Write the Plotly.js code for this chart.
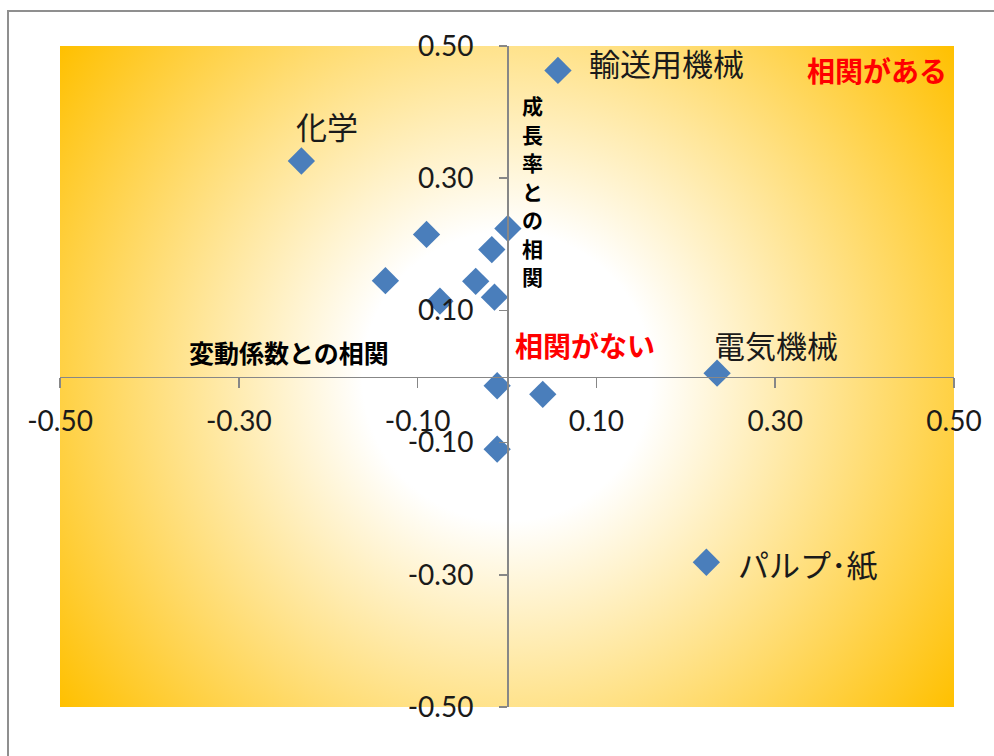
<!DOCTYPE html>
<html>
<head>
<meta charset="utf-8">
<script src="https://cdn.plot.ly/plotly-3.0.1.min.js"></script>
<style>
  html, body { margin: 0; padding: 0; background: #fff; }
  #wrap { position: relative; width: 994px; height: 756px; overflow: hidden; }
  #chart { width: 994px; height: 756px; }
  #frame {
    position: absolute; left: 7px; top: 10px; width: 1100px; height: 900px;
    border-top: 2px solid #8f8f8f; border-left: 2px solid #8f8f8f;
    pointer-events: none;
  }
</style>
</head>
<body>
<div id="wrap">
  <div id="chart"></div>
  <div id="frame"></div>
</div>
<script>
// 業種別：変動係数との相関（横軸）と成長率との相関（縦軸）
const cvCorr = [0.057, -0.230, -0.090, 0.001, -0.017, -0.136, -0.035, -0.075, -0.014, 0.235, -0.011, 0.040, -0.011, 0.223];
const growthCorr = [0.463, 0.326, 0.215, 0.224, 0.192, 0.145, 0.144, 0.114, 0.120, 0.005, -0.014, -0.027, -0.110, -0.281];
const industryNames = ['輸送用機械', '化学', '', '', '', '', '', '', '', '電気機械', '', '', '', 'パルプ･紙'];

const xTickVals = [-0.5, -0.3, -0.1, 0.1, 0.3, 0.5];
const xTickText = ['-0.50', '-0.30', '-0.10', '0.10', '0.30', '0.50'];
const yTickVals = [-0.5, -0.3, -0.1, 0.1, 0.3, 0.5];
const yTickText = ['-0.50', '-0.30', '-0.10', '0.10', '0.30', '0.50'];

const xAxisTitle = '変動係数との相関';
const yAxisTitle = '成長率との相関';

// label placement relative to each marker (pixels)
const labelPlacement = {
  '輸送用機械': { xanchor: 'left',   xshift: 29, yshift: 8 },
  '化学':       { xanchor: 'center', xshift: 26, yshift: 36 },
  '電気機械':   { xanchor: 'left',   xshift: -5, yshift: 29 },
  'パルプ･紙':  { xanchor: 'left',   xshift: 30, yshift: -1 }
};

// radial white-to-gold fill for the plot area
function plotAreaFill() {
  const w = 894, h = 661;
  const cv = document.createElement('canvas');
  cv.width = w; cv.height = h;
  const ctx = cv.getContext('2d');
  const cx = w / 2, cy = h / 2;
  const r = Math.sqrt(cx * cx + cy * cy);
  const g = ctx.createRadialGradient(cx, cy, 0, cx, cy, r);
  g.addColorStop(0, '#ffffff');
  g.addColorStop(0.26, '#ffffff');
  g.addColorStop(1, '#ffc000');
  ctx.fillStyle = g;
  ctx.fillRect(0, 0, w, h);
  return cv.toDataURL('image/png');
}

const JP = "'Noto Sans CJK JP', 'Noto Sans CJK SC', sans-serif";
const NUM = "Lato, 'Open Sans', sans-serif";

const trace = {
  type: 'scatter',
  mode: 'markers',
  x: cvCorr,
  y: growthCorr,
  marker: { symbol: 'diamond', size: 21, color: '#4a7ebb', line: { width: 0 } },
  hoverinfo: 'skip',
  cliponaxis: false
};

const annotations = [];
industryNames.forEach((name, i) => {
  if (!name) return;
  const p = labelPlacement[name];
  annotations.push({
    x: cvCorr[i], y: growthCorr[i], xref: 'x', yref: 'y',
    text: name, showarrow: false,
    xanchor: p.xanchor, yanchor: 'middle',
    xshift: p.xshift, yshift: p.yshift,
    font: { family: JP, size: 31, color: '#1a1a1a' }
  });
});

// horizontal-axis caption
annotations.push({
  xref: 'paper', yref: 'paper', x: 0.2558, y: 0.537, text: '<b>' + xAxisTitle + '</b>',
  showarrow: false, xanchor: 'center', yanchor: 'middle',
  font: { family: JP, size: 25, color: '#000' }
});

// vertical-axis caption, stacked one character per row
const vTop = 0.910, vStep = 0.0431;
Array.from(yAxisTitle).forEach((ch, k) => {
  annotations.push({
    xref: 'paper', yref: 'paper', x: 0.5290, y: vTop - k * vStep,
    text: '<b>' + ch + '</b>', showarrow: false,
    xanchor: 'center', yanchor: 'middle',
    font: { family: JP, size: 21, color: '#000' }
  });
});

annotations.push(
  { xref: 'paper', yref: 'paper', x: 0.5872, y: 0.5477, text: '<b>相関がない</b>',
    showarrow: false, xanchor: 'center', yanchor: 'middle',
    font: { family: JP, size: 28, color: '#ff0000' } },
  { xref: 'paper', yref: 'paper', x: 0.9139, y: 0.9637, text: '<b>相関がある</b>',
    showarrow: false, xanchor: 'center', yanchor: 'middle',
    font: { family: JP, size: 28, color: '#ff0000' } }
);

const layout = {
  width: 994, height: 756,
  margin: { l: 60, r: 40, t: 46, b: 49 },
  paper_bgcolor: '#ffffff',
  plot_bgcolor: 'rgba(0,0,0,0)',
  showlegend: false,
  xaxis: {
    range: [-0.5, 0.5], anchor: 'free', position: 0.5, side: 'bottom',
    showgrid: false, zeroline: false,
    showline: true, linecolor: '#878787', linewidth: 1.5,
    ticks: 'outside', ticklen: 10, tickwidth: 1.5, tickcolor: '#878787',
    tickvals: xTickVals, ticktext: xTickText,
    ticklabelstandoff: 9,
    tickfont: { family: NUM, size: 28, color: '#1a1a1a' },
    fixedrange: true
  },
  yaxis: {
    range: [-0.5, 0.5], anchor: 'free', position: 0.5, side: 'left',
    showgrid: false, zeroline: false,
    showline: true, linecolor: '#878787', linewidth: 1.5,
    ticks: 'outside', ticklen: 8, tickwidth: 1.5, tickcolor: '#878787',
    tickvals: yTickVals, ticktext: yTickText,
    ticklabelstandoff: 20,
    tickfont: { family: NUM, size: 28, color: '#1a1a1a' },
    fixedrange: true
  },
  images: [{
    source: plotAreaFill(), xref: 'paper', yref: 'paper',
    x: 0, y: 1, sizex: 1, sizey: 1, xanchor: 'left', yanchor: 'top',
    sizing: 'stretch', layer: 'below'
  }],
  annotations: annotations
};

Plotly.newPlot('chart', [trace], layout, { displayModeBar: false, staticPlot: true });
</script>
</body>
</html>
